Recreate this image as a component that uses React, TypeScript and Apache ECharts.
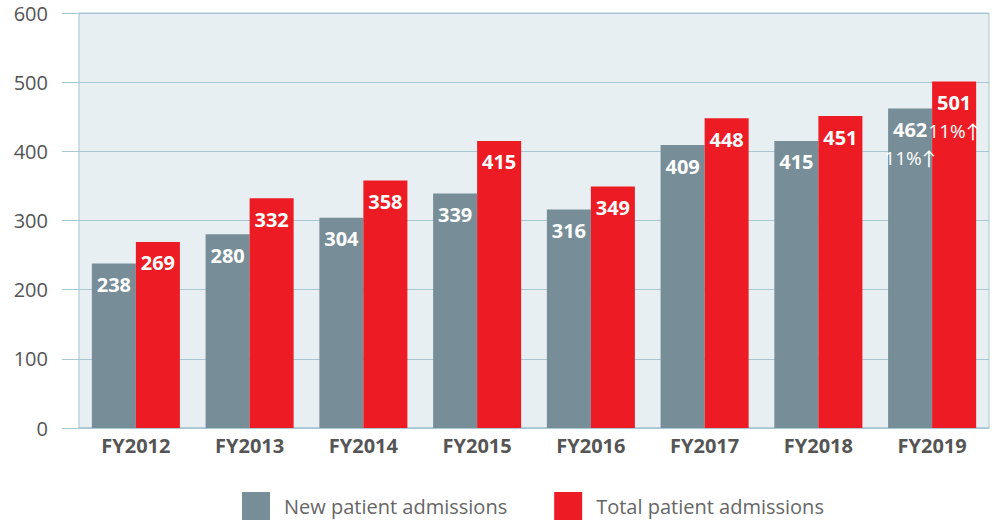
import React, { useEffect, useRef } from "react";
import * as echarts from "echarts";

const categories = ["FY2012", "FY2013", "FY2014", "FY2015", "FY2016", "FY2017", "FY2018", "FY2019"];
const newAdmissions = [238, 280, 304, 339, 316, 409, 415, 462];
const totalAdmissions = [269, 332, 358, 415, 349, 448, 451, 501];
const growthNote = "11%↑";
const yTicks = { min: 0, max: 600, interval: 100 };

const GRAY = "#778d97";
const RED = "#ed1c24";
const LINE = "#a9c6d3";
const FONT = "'Open Sans', Lato, sans-serif";

export default function App() {
  const ref = useRef<HTMLDivElement>(null);
  useEffect(() => {
    if (!ref.current) return;
    const chart = echarts.init(ref.current, undefined, { renderer: "svg" });
    const last = categories.length - 1;
    const labelFor = (vals: number[]) => ({
      show: true,
      position: "insideTop",
      distance: 7,
      fontFamily: FONT,
      formatter: (p: any) =>
        p.dataIndex === last ? `{v|${vals[p.dataIndex]}}\n{n|${growthNote}}` : `{v|${vals[p.dataIndex]}}`,
      rich: {
        v: { color: "#fff", fontSize: 20, fontWeight: "bold", fontFamily: FONT, lineHeight: 28 },
        n: { color: "#fff", fontSize: 19, fontWeight: "normal", fontFamily: FONT, lineHeight: 30 },
      },
    });
    chart.setOption({
      animation: false,
      textStyle: { fontFamily: FONT },
      grid: {
        left: 79,
        right: 4,
        top: 13,
        bottom: 97,
        show: true,
        backgroundColor: "#e7eff2",
        borderColor: LINE,
        borderWidth: 1,
      },
      legend: {
        bottom: 0,
        left: 237,
        itemWidth: 28,
        itemHeight: 28,
        itemGap: 47,
        icon: "rect",
        textStyle: { color: "#666", fontSize: 20, fontFamily: FONT, padding: [0, 0, 0, 9] },
        data: ["New patient admissions", "Total patient admissions"],
      },
      xAxis: {
        type: "category",
        data: categories,
        axisLine: { lineStyle: { color: LINE, width: 1.5 } },
        axisTick: { show: false },
        axisLabel: { color: "#555", fontSize: 20, fontWeight: "bold", margin: 7, fontFamily: FONT },
      },
      yAxis: {
        type: "value",
        min: yTicks.min,
        max: yTicks.max,
        interval: yTicks.interval,
        axisLine: { show: false },
        axisTick: { show: true, length: 17, lineStyle: { color: LINE } },
        splitLine: { lineStyle: { color: LINE, width: 1 } },
        axisLabel: { color: "#555", fontSize: 20, margin: 31, fontFamily: FONT },
      },
      series: [
        {
          name: "New patient admissions",
          type: "bar",
          data: newAdmissions,
          barWidth: "38.7%",
          barGap: "0%",
          itemStyle: { color: GRAY },
          label: labelFor(newAdmissions),
        },
        {
          name: "Total patient admissions",
          type: "bar",
          data: totalAdmissions,
          barWidth: "38.7%",
          barGap: "0%",
          itemStyle: { color: RED },
          label: labelFor(totalAdmissions),
        },
      ],
    });
    return () => chart.dispose();
  }, []);
  return <div ref={ref} style={{ width: 993, height: 525, position: "absolute", left: 0, top: 0 }} />;
}
